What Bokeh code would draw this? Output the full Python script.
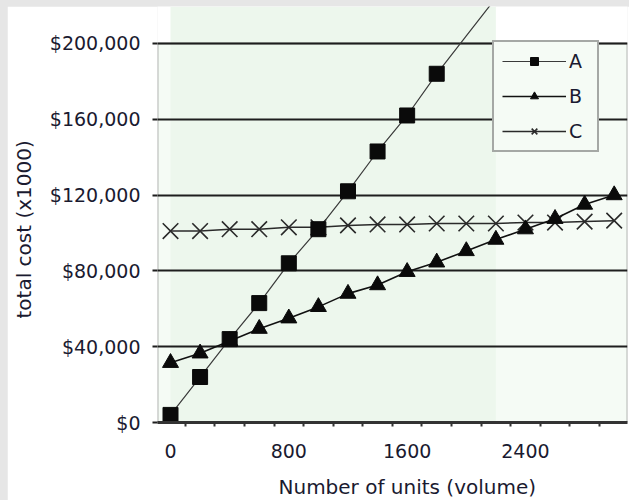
from bokeh.plotting import figure
from bokeh.models import (Range1d, FixedTicker, NumeralTickFormatter, BoxAnnotation,
                          Legend, LegendItem, Title, LinearAxis)
from bokeh.layouts import column
from bokeh.embed import file_html
from bokeh.resources import INLINE

# ---- data ----
units = [0, 200, 400, 600, 800, 1000, 1200, 1400, 1600, 1800, 2000, 2200, 2400, 2600, 2800, 3000]
cost_a = [4000, 24000, 44000, 63000, 84000, 102000, 122000, 143000, 162000, 184000,
          204000, 224000, 244000, 264000, 284000, 304000]
cost_b = [31500, 36500, 43000, 49500, 55000, 61000, 68000, 72500, 79500, 84500,
          90500, 96500, 102000, 107500, 115000, 120000]
cost_c = [101000, 101000, 102000, 102000, 103000, 103000, 104000, 104500, 104500, 105000,
          105000, 105000, 105500, 105500, 106000, 106500]
series_names = ["A", "B", "C"]
x_tick_labels = [0, 800, 1600, 2400]
y_ticks = [0, 40000, 80000, 120000, 160000, 200000]
x_title = "Number of units (volume)"
y_title = "total cost (x1000)"

FONT = "DejaVu Sans"
TEXT = "#1a1a30"
Y_MAX = y_ticks[-1]

p = figure(width=622, height=494, output_backend="svg", toolbar_location=None,
           x_range=Range1d(-88, 3090), y_range=Range1d(0, 219500),
           min_border_left=150, min_border_right=2, min_border_top=0, min_border_bottom=78,
           background_fill_color="white", border_fill_color="white")
p.outline_line_color = None
p.margin = (6, 0, 0, 7)

# plot-area tint and the greener band
plot_bg = BoxAnnotation(bottom=y_ticks[0], top=Y_MAX, fill_color="#f5fbf5", fill_alpha=1,
                        line_color=None, level="image")
band = BoxAnnotation(left=units[0], right=2200, fill_color="#edf7ed", fill_alpha=1,
                     line_color=None, level="image")
border = BoxAnnotation(bottom=y_ticks[0], top=Y_MAX, fill_alpha=0,
                       line_color="#1e1e1e", line_width=2, level="underlay")
p.add_layout(plot_bg)
p.add_layout(band)
p.add_layout(border)

# grid
p.xgrid.visible = False
p.ygrid.ticker = FixedTicker(ticks=y_ticks)
p.ygrid.grid_line_color = "#1e1e1e"
p.ygrid.grid_line_width = 2

# y axis
p.yaxis.ticker = FixedTicker(ticks=y_ticks)
p.yaxis.formatter = NumeralTickFormatter(format="$0,0")
p.yaxis.axis_line_color = None
p.yaxis.major_tick_out = 5
p.yaxis.major_tick_in = 0
p.yaxis.major_tick_line_color = "#1e1e1e"
p.yaxis.major_tick_line_width = 2
p.yaxis.minor_tick_out = 0
p.yaxis.minor_tick_in = 0
p.yaxis.major_label_standoff = 12

# x axis (category-style ticks between points)
boundaries = [u + 100 for u in units[:-1]]
p.xaxis.ticker = FixedTicker(ticks=x_tick_labels, minor_ticks=boundaries)
p.xaxis.axis_line_color = "#333333"
p.xaxis.axis_line_width = 3
p.xaxis.major_tick_out = 0
p.xaxis.major_tick_in = 0
p.xaxis.minor_tick_out = 4
p.xaxis.minor_tick_in = 0
p.xaxis.minor_tick_line_color = "#333333"
p.xaxis.minor_tick_line_width = 2
p.xaxis.major_label_standoff = 17

for ax in (p.xaxis[0], p.yaxis[0]):
    ax.major_label_text_font = FONT
    ax.major_label_text_font_size = "19px"
    ax.major_label_text_color = TEXT


def spacer(extent, tick):
    # an invisible axis used only to add room between the tick labels and the title
    return LinearAxis(ticker=FixedTicker(ticks=[tick]), axis_line_color=None,
                      major_tick_out=extent, major_tick_in=0, major_tick_line_color=None,
                      minor_tick_out=0, minor_tick_in=0, minor_tick_line_color=None,
                      major_label_standoff=0, major_label_text_font_size="1px",
                      major_label_text_alpha=0, major_label_overrides={tick: ""})


p.add_layout(spacer(10, x_tick_labels[1]), "below")
p.add_layout(spacer(9, y_ticks[2]), "left")

# axis titles
xt = Title(text=x_title, align="left", offset=121, text_font=FONT, text_font_size="20px",
           text_font_style="normal", text_color=TEXT, standoff=4)
yt = Title(text=y_title, align="left", offset=104, text_font=FONT, text_font_size="20px",
           text_font_style="normal", text_color=TEXT, standoff=4)
p.add_layout(xt, "below")
p.add_layout(yt, "left")

# series (C under B under A)
lc = p.line(units, cost_c, line_color="#2a2a2a", line_width=1.5)
sc = p.scatter(units, cost_c, marker="x", size=22, line_color="#2a2a2a", line_width=1.6)
lb = p.line(units, cost_b, line_color="#111111", line_width=1.6)
sb = p.scatter(units, cost_b, marker="triangle", size=16, fill_color="#0a0a0a", line_color="#0a0a0a")
la = p.line(units, cost_a, line_color="#3a3a3a", line_width=1.2)
# markers beyond the plot area are not drawn in the reference
a_units = [u for u, v in zip(units, cost_a) if v <= Y_MAX]
a_vals = [v for v in cost_a if v <= Y_MAX]
sa = p.scatter(a_units, a_vals, marker="square", size=15, fill_color="#0a0a0a", line_color="#0a0a0a")

legend = Legend(items=[LegendItem(label=series_names[0], renderers=[la, sa]),
                       LegendItem(label=series_names[1], renderers=[lb, sb]),
                       LegendItem(label=series_names[2], renderers=[lc, sc])],
                location=(335, 270))
legend.label_text_font = FONT
legend.label_text_font_size = "19px"
legend.label_text_color = TEXT
legend.label_standoff = 3
legend.glyph_width = 64
legend.glyph_height = 20
legend.label_height = 20
legend.spacing = 13
legend.padding = 8
legend.margin = 0
legend.border_line_color = "#555555"
legend.border_line_width = 2
legend.background_fill_color = "#f5fbf5"
legend.background_fill_alpha = 1
p.add_layout(legend)

root = column(p, styles={"background-color": "#e6e6e6"})
open("out.html", "w").write(file_html(root, INLINE))
